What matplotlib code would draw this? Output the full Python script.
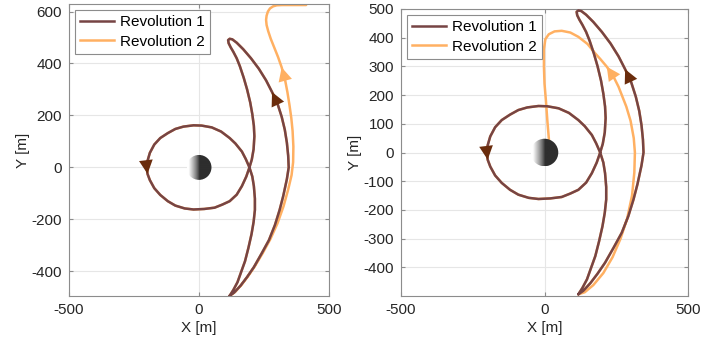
import numpy as np
import matplotlib
matplotlib.use('Agg')
import matplotlib.pyplot as plt
from matplotlib.lines import Line2D
from matplotlib.patches import Circle

plt.rcParams['font.family'] = ['Liberation Sans', 'DejaVu Sans']
plt.rcParams['axes.unicode_minus'] = False

# Revolution 1: closed path, starts and ends at the lower tip [m]
rev1_x = [118, 135, 160, 185, 211, 240, 269, 292, 310, 324, 338, 345,
          343, 338, 330, 318, 302, 281, 258, 230, 200, 170, 145, 128, 118, 112, 114,
          122, 132, 145, 157, 172, 185, 197, 205, 211, 213, 210, 203, 194,
          180, 165, 140, 118, 85, 49, 10, -21, -60, -91, -120, -149, -172, -189, -198,
          -201, -198, -189, -172, -149, -120, -91, -55, -21, 20, 60, 90, 118, 145, 165, 182, 194,
          205, 211, 215, 215, 210, 202, 190, 177, 163, 148, 132, 118]
rev1_y = [-494, -482, -455, -422, -384, -333, -280, -222, -164, -110, -45, 0,
          45, 95, 145, 195, 245, 290, 335, 380, 420, 455, 480, 493, 495, 490, 478,
          462, 445, 420, 390, 345, 300, 250, 205, 160, 120, 70, 30, 0,
          32, 61, 92, 113, 138, 154, 161, 162, 157, 148, 132, 113, 88, 56, 25,
          0, -25, -49, -80, -106, -130, -147, -158, -162, -160, -155, -143, -130, -105, -72, -35, 0,
          -35, -72, -120, -164, -210, -257, -310, -361, -400, -442, -472, -494]

# Revolution 2, departure (left panel): leaves the lower tip and exits at the top
dep_x = [118, 140, 165, 190, 215, 245, 275, 302, 325, 343, 356, 362, 363, 360, 355, 348,
         340, 331, 318, 304, 290, 276, 266, 260, 258, 260, 265, 273, 285, 299, 320, 350, 380, 412]
dep_y = [-494, -478, -450, -417, -380, -330, -275, -215, -150, -85, -30, 20, 80, 140, 190, 240,
         290, 337, 385, 425, 460, 495, 525, 548, 568, 584, 600, 612, 620, 624, 625, 625, 625, 625]

# Revolution 2, arrival (right panel): leaves the lower tip and ends at the body
arr_x = [118, 140, 170, 205, 237, 265, 288, 305, 313, 315, 311, 300, 285, 258, 240, 217,
         195, 177, 150, 118, 90, 60, 35, 15, 3, -2, -2, 0, 5, 10, 15, 18]
arr_y = [-494, -487, -462, -420, -365, -300, -230, -150, -70, 0, 50, 110, 160, 229, 265, 299,
         325, 345, 378, 403, 418, 424, 422, 412, 395, 360, 300, 240, 180, 110, 50, 20]

body_r = 48

brown = '#764444'
orange = '#ffb062'
arrow_brown = '#6a2c0c'


def add_arrow(ax, xs, ys, i, color):
    ax.annotate('', xy=(xs[i + 1], ys[i + 1]), xytext=(xs[i], ys[i]),
                arrowprops=dict(arrowstyle='-|>,head_length=0.9,head_width=0.45',
                                color=color, lw=0, shrinkA=0, shrinkB=0,
                                mutation_scale=11), zorder=6)


def draw_panel(ax, tail_x, tail_y, tail_arrow, ylim, yticks):
    r2_x = rev1_x + tail_x
    r2_y = rev1_y + tail_y
    ax.plot(r2_x, r2_y, color=orange, lw=1.8, zorder=2, solid_capstyle='round')
    ax.plot(rev1_x, rev1_y, color=brown, lw=1.8, zorder=3, solid_capstyle='round')

    # arrows
    add_arrow(ax, rev1_x, rev1_y, 16, arrow_brown)
    add_arrow(ax, rev1_x, rev1_y, 55, arrow_brown)
    add_arrow(ax, r2_x, r2_y, len(rev1_x) + tail_arrow, orange)

    # central body with shading
    xs = np.linspace(-1, 1, 200)
    shade = np.where(xs < 0, 0.18 + 0.82 * np.clip(-xs * 1.15, 0, 1) ** 0.8, 0.18)
    img = ax.imshow(np.tile(shade, (2, 1)), cmap='gray', vmin=0, vmax=1,
                    extent=[-body_r, body_r, -body_r, body_r], aspect='auto', zorder=5)
    circ = Circle((0, 0), body_r, transform=ax.transData)
    img.set_clip_path(circ)

    ax.set_xlim(-500, 500)
    ax.set_ylim(*ylim)
    ax.set_xticks([-500, 0, 500])
    ax.set_yticks(yticks)
    ax.grid(True, color='#e6e6e6', lw=0.8)
    ax.set_axisbelow(True)
    ax.tick_params(direction='in', top=True, right=True, length=3, labelsize=11,
                   colors='#8c8c8c', labelcolor='#262626', pad=5)
    for s in ax.spines.values():
        s.set_color('#8c8c8c')
        s.set_linewidth(0.8)
    ax.set_xlabel('X [m]', fontsize=11, color='#262626', labelpad=3)
    ax.set_ylabel('Y [m]', fontsize=11, color='#262626', labelpad=1)

    handles = [Line2D([], [], color=brown, lw=1.8), Line2D([], [], color=orange, lw=1.8)]
    leg = ax.legend(handles, ['Revolution 1', 'Revolution 2'], loc='upper left',
                    fontsize=11, fancybox=False, framealpha=1, edgecolor='#8c8c8c',
                    handlelength=2.2, handletextpad=0.4, labelspacing=0.35,
                    borderpad=0.35, borderaxespad=0.4)
    leg.get_frame().set_linewidth(0.8)


fig = plt.figure(figsize=(7.02, 3.43), dpi=100)
ax1 = fig.add_axes([69 / 702, 47 / 343, 260 / 702, 292 / 343])
ax2 = fig.add_axes([401 / 702, 47 / 343, 287 / 702, 287 / 343])

draw_panel(ax1, dep_x, dep_y, 17, (-495, 629), [-400, -200, 0, 200, 400, 600])
draw_panel(ax2, arr_x, arr_y, 14, (-500, 500), list(range(-400, 501, 100)))

fig.savefig('out.png', dpi=100)
